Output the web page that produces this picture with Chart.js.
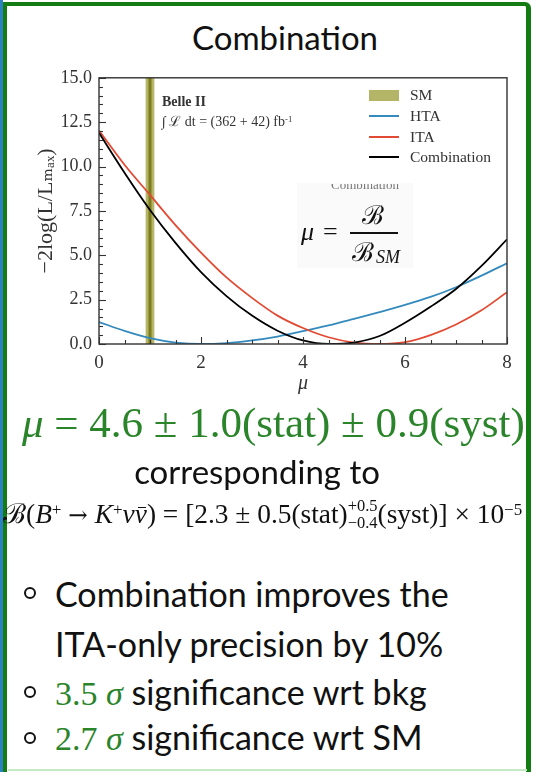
<!DOCTYPE html>
<html>
<head>
<meta charset="utf-8">
<title>Combination</title>
<script src="https://cdn.jsdelivr.net/npm/chart.js@4.4.1/dist/chart.umd.min.js"></script>
<style>
  html, body { margin: 0; padding: 0; }
  body { width: 538px; height: 772px; position: relative; overflow: hidden; background: #fff;
         font-family: Lato, "Open Sans", sans-serif; color: #111; }
  .abs { position: absolute; white-space: nowrap; line-height: 1; }
  .serif { font-family: "Liberation Serif", "DejaVu Serif", serif; }
  .green { color: #2a842a; }
  #stripe { position: absolute; left: 0; top: 0; width: 3px; height: 772px; background: #2b80c2; }
  #frame { position: absolute; left: 3px; top: 2px; width: 519px; height: 800px;
           border: 5px solid #137d13; border-left-width: 4px; border-top-width: 4px; border-top-right-radius: 6px; }
  #floor { position: absolute; left: 8px; top: 769px; width: 519px; height: 2px; background: #c4eac4; }
  #chartBox { position: absolute; left: 10px; top: 60px; width: 520px; height: 340px; }
  #legend { position: absolute; left: 369px; top: 85px; font: 15.5px "Liberation Serif", serif; color: #333; }
  #legend .row { display: flex; align-items: center; height: 20.7px; }
  #legend .sw { width: 30px; margin-right: 11px; }
  #muBox { position: absolute; left: 297px; top: 183px; width: 116px; height: 85px; background: #fafafa; }
  #cut { position: absolute; left: 331px; top: 184px; width: 84px; height: 5px; overflow: hidden; }
  #cut span { position: absolute; top: -7px; left: 0; font: 13px "Liberation Serif", serif; color: #777; white-space: nowrap; }
  sup { font-size: 0.62em; vertical-align: 0.5em; line-height: 0; }
  .ss { display: inline-block; vertical-align: -0.32em; font-size: 0.6em; line-height: 1.05; text-align: left; }
  .ss span { display: block; }
  .arrow { font-family: "DejaVu Serif", serif; font-size: 0.85em; }
  .bar { position: relative; }
  .bar::after { content: ''; position: absolute; left: 0.12em; right: 0.02em; top: 0.28em; border-top: 1px solid #111; }
  .bullet { position: absolute; left: 24px; width: 12px; height: 12px; border: 2.6px solid #111;
            border-radius: 50%; box-sizing: border-box; }
</style>
</head>
<body>
<div id="stripe"></div>
<div id="frame"></div>
<div id="floor"></div>

<div class="abs" style="left:85px;width:400px;text-align:center;top:21px;font-size:33px;">Combination</div>

<div id="muBox"></div>
<div id="chartBox"><canvas id="nllChart" width="520" height="340"></canvas></div>
<div id="legend"></div>

<div class="abs serif" style="left:162px;top:95px;font-size:14px;font-weight:bold;color:#333;">Belle II</div>
<div class="abs serif" style="left:162px;top:115px;font-size:14px;color:#333;">∫ ℒ dt = (362 + 42) fb<sup>-1</sup></div>

<div id="cut"><span>Combination</span></div>
<div class="abs serif" style="left:301px;top:219px;font-size:26px;font-style:italic;">μ</div>
<div class="abs serif" style="left:323px;top:219px;font-size:26px;">=</div>
<div class="abs serif" style="left:362px;top:203px;font-size:26px;">ℬ</div>
<div class="abs" style="left:350px;top:232px;width:48px;height:1.5px;background:#111;"></div>
<div class="abs serif" style="left:352px;top:240px;font-size:26px;">ℬ</div>
<div class="abs serif" style="left:376px;top:248px;font-size:18px;font-style:italic;">SM</div>

<div class="abs serif green" style="left:22px;top:401px;font-size:43px;"><i>μ</i> = 4.6 ± 1.0(stat) ± 0.9(syst)</div>
<div class="abs" style="left:57px;width:400px;text-align:center;top:455px;font-size:33px;">corresponding to</div>
<div class="abs serif" style="left:3px;top:497px;font-size:27.4px;">ℬ(<i>B</i><sup>+</sup> <span class="arrow">→</span> <i>K</i><sup>+</sup><i>ν<span class="bar">ν</span></i>) = [2.3 ± 0.5(stat)<span class="ss"><span>+0.5</span><span>−0.4</span></span>(syst)] × 10<sup>−5</sup></div>

<div class="bullet" style="top:587px;"></div>
<div class="abs" style="left:55px;top:577px;font-size:34px;">Combination improves the</div>
<div class="abs" style="left:55px;top:627px;font-size:34px;">ITA-only precision by 10%</div>
<div class="bullet" style="top:686px;"></div>
<div class="abs" style="left:55px;top:675px;font-size:34px;"><span class="serif green">3.5 <i>σ</i></span> significance wrt bkg</div>
<div class="bullet" style="top:732px;"></div>
<div class="abs" style="left:55px;top:720px;font-size:34px;"><span class="serif green">2.7 <i>σ</i></span> significance wrt SM</div>

<script>
// likelihood scan, -2 log(L/Lmax) vs mu
const muGrid   = [0, 0.5, 1, 1.5, 2, 2.5, 3, 3.5, 4, 4.5, 5, 5.5, 6, 6.5, 7, 7.5, 8];
const htaNll   = [1.24, 0.74, 0.33, 0.08, 0.0, 0.05, 0.2, 0.42, 0.72, 1.05, 1.42, 1.8, 2.2, 2.65, 3.2, 3.85, 4.55];
const itaNll   = [12.03, 10.1, 8.4, 6.7, 5.15, 3.75, 2.6, 1.6, 0.9, 0.38, 0.08, 0.0, 0.1, 0.5, 1.1, 1.9, 2.92];
const combNll  = [11.9, 9.65, 7.55, 5.7, 4.05, 2.7, 1.6, 0.75, 0.2, 0.0, 0.08, 0.45, 1.2, 2.1, 3.1, 4.4, 5.9];
const smMu = 1.0;
const smHalfWidth = 0.09;
const xRange = [0, 8];
const yRange = [0, 15];
const xTickLabels = ['0', '2', '4', '6', '8'];
const yTickLabels = ['0.0', '2.5', '5.0', '7.5', '10.0', '12.5', '15.0'];

const serif = '"Liberation Serif", "DejaVu Serif", serif';
const axisColor = '#333';

function curve(vals) {
    return muGrid.map(function (m, i) { return {x: m, y: vals[i]}; });
}

// inward ticks (long for labelled, short for minor) and a full box round the plot
const axisFrame = {
    id: 'axisFrame',
    afterDatasetsDraw: function (chart) {
        var ctx = chart.ctx, a = chart.chartArea, xs = chart.scales.x, ys = chart.scales.y;
        ctx.save();
        ctx.strokeStyle = axisColor;
        ctx.lineWidth = 1.1;
        xs.ticks.forEach(function (t) {
            var px = Math.round(xs.getPixelForValue(t.value)) + 0.5;
            var len = t.label ? 7 : 4;
            ctx.beginPath(); ctx.moveTo(px, a.bottom); ctx.lineTo(px, a.bottom - len); ctx.stroke();
        });
        ys.ticks.forEach(function (t) {
            var py = Math.round(ys.getPixelForValue(t.value)) + 0.5;
            var len = t.label ? 7 : 4;
            ctx.beginPath(); ctx.moveTo(a.left, py); ctx.lineTo(a.left + len, py); ctx.stroke();
        });
        ctx.lineWidth = 1.4;
        ctx.strokeRect(a.left, a.top, a.right - a.left, a.bottom - a.top);
        ctx.restore();
    }
};

// legend as html, built from the datasets
const htmlLegend = {
    id: 'htmlLegend',
    afterUpdate: function (chart) {
        var box = document.getElementById('legend');
        box.innerHTML = '';
        chart.data.datasets.forEach(function (ds) {
            if (!ds.label) return;
            var row = document.createElement('div');
            row.className = 'row';
            var sw = document.createElement('div');
            sw.className = 'sw';
            if (ds.fill) {
                sw.style.height = '11px';
                sw.style.background = ds.backgroundColor;
            } else {
                sw.style.height = '2px';
                sw.style.background = ds.borderColor;
            }
            var txt = document.createElement('span');
            txt.textContent = ds.label;
            row.appendChild(sw);
            row.appendChild(txt);
            box.appendChild(row);
        });
    }
};

var ctx = document.getElementById('nllChart').getContext('2d');
new Chart(ctx, {
    type: 'line',
    data: {
        datasets: [
            {
                label: 'SM',
                data: [
                    {x: smMu - smHalfWidth, y: yRange[0]}, {x: smMu - smHalfWidth, y: yRange[1]},
                    {x: smMu + smHalfWidth, y: yRange[1]}, {x: smMu + smHalfWidth, y: yRange[0]}
                ],
                backgroundColor: 'rgba(150,150,40,0.7)',
                borderWidth: 0,
                fill: 'origin',
                tension: 0,
                order: 10
            },
            {
                label: '',
                data: [{x: smMu, y: yRange[0]}, {x: smMu, y: yRange[1]}],
                borderColor: '#7d7d1e',
                borderWidth: 3,
                fill: false,
                tension: 0,
                order: 9
            },
            {
                label: 'HTA',
                data: curve(htaNll),
                borderColor: '#348ABD',
                borderWidth: 1.8,
                fill: false,
                cubicInterpolationMode: 'monotone',
                order: 2
            },
            {
                label: 'ITA',
                data: curve(itaNll),
                borderColor: '#E24A33',
                borderWidth: 1.8,
                fill: false,
                cubicInterpolationMode: 'monotone',
                order: 1
            },
            {
                label: 'Combination',
                data: curve(combNll),
                borderColor: '#000000',
                borderWidth: 1.8,
                fill: false,
                cubicInterpolationMode: 'monotone',
                order: 0
            }
        ]
    },
    options: {
        responsive: false,
        maintainAspectRatio: false,
        animation: false,
        devicePixelRatio: 1,
        elements: { point: { radius: 0, hoverRadius: 0 } },
        layout: { padding: { left: 23, top: 15, right: 23, bottom: 4 } },
        plugins: {
            legend: { display: false },
            tooltip: { enabled: false }
        },
        scales: {
            x: {
                type: 'linear',
                min: xRange[0],
                max: xRange[1],
                grid: { display: false, drawTicks: false },
                border: { display: false },
                ticks: {
                    stepSize: 0.5,
                    autoSkip: false,
                    maxRotation: 0,
                    padding: 8,
                    color: axisColor,
                    font: { family: serif, size: 19 },
                    callback: function (v) {
                        var s = String(Math.round(v * 100) / 100);
                        return xTickLabels.indexOf(s) >= 0 ? s : '';
                    }
                },
                title: {
                    display: true,
                    text: 'μ',
                    color: axisColor,
                    padding: 0,
                    font: { family: serif, size: 20, style: 'italic' }
                },
                afterFit: function (s) { s.height = 52; }
            },
            y: {
                type: 'linear',
                min: yRange[0],
                max: yRange[1],
                grid: { display: false, drawTicks: false },
                border: { display: false },
                ticks: {
                    stepSize: 0.5,
                    autoSkip: false,
                    padding: 7,
                    color: axisColor,
                    font: { family: serif, size: 18 },
                    callback: function (v) {
                        var s = v.toFixed(1);
                        return yTickLabels.indexOf(s) >= 0 ? s : '';
                    }
                },
                title: {
                    display: true,
                    text: '−2log(L/Lₘₐₓ)',
                    color: axisColor,
                    padding: 0,
                    font: { family: serif, size: 22 }
                },
                afterFit: function (s) { s.width = 66; }
            }
        }
    },
    plugins: [axisFrame, htmlLegend]
});
</script>
</body>
</html>
